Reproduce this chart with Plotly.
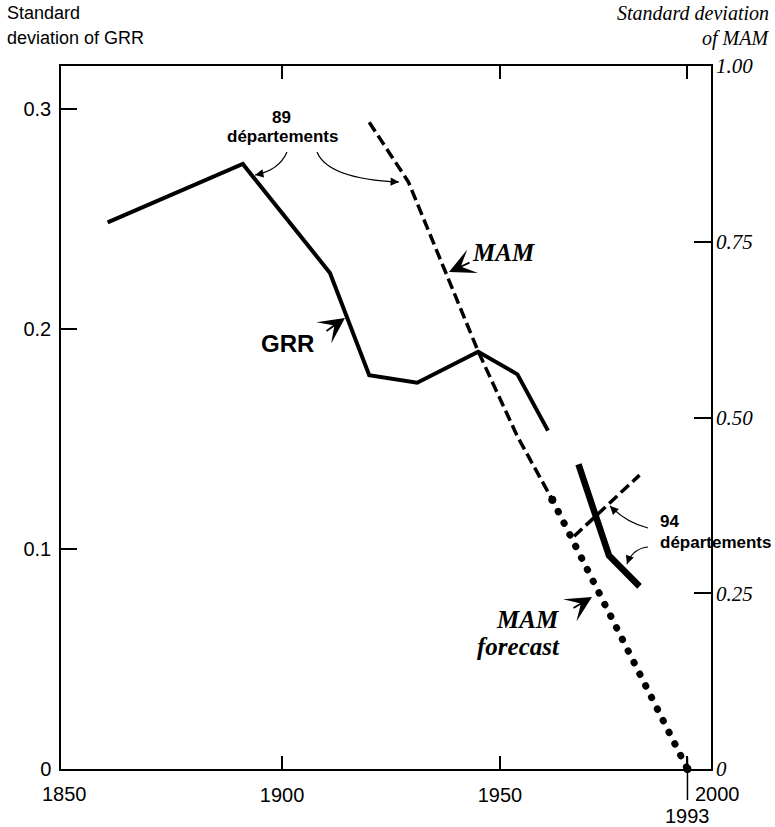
import math
import plotly.graph_objects as go

# ---------------- data ----------------
grr_years_89 = [1860, 1891, 1911, 1920, 1931, 1945, 1954, 1961]
grr_sd_89 = [0.2485, 0.275, 0.2255, 0.179, 0.1756, 0.1897, 0.1794, 0.1538]

grr_years_94 = [1968, 1975, 1982]
grr_sd_94 = [0.1385, 0.097, 0.083]

mam_years_89 = [1920, 1929, 1945, 1954, 1962]
mam_sd_89 = [0.92, 0.835, 0.594, 0.473, 0.383]

mam_years_94 = [1967, 1982]
mam_sd_94 = [0.331, 0.418]

forecast_years = [1962, 1993]
forecast_sd = [0.383, 0.0]

x_tick_years = [1900, 1950, 1993]
x_tick_labels = ["1900", "1950", ""]
grr_ticks = [0, 0.1, 0.2, 0.3]
grr_tick_labels = ["0", "0.1", "0.2", "0.3"]
mam_ticks = [0, 0.25, 0.5, 0.75, 1.0]
mam_tick_labels = ["0", "0.25", "0.50", "0.75", "1.00"]

# ---------------- layout geometry ----------------
W, H = 775, 827
L, R, T, B = 61, 711, 66, 769
X0, X1 = 1849.3, 1998.4

def px(x):
    return (x - L) / (R - L)

def py(y):
    return (B - y) / (B - T)

SANS = "Liberation Sans, Arial, Helvetica, sans-serif"
NARROW = "Liberation Sans Narrow, Arial Narrow, Liberation Sans, Arial, sans-serif"
SERIF = "Liberation Serif, Times New Roman, serif"

fig = go.Figure()

fig.add_trace(go.Scatter(x=grr_years_89, y=grr_sd_89, mode="lines",
                         line=dict(color="black", width=4), yaxis="y",
                         showlegend=False, hoverinfo="skip"))
fig.add_trace(go.Scatter(x=grr_years_94, y=grr_sd_94, mode="lines",
                         line=dict(color="black", width=6.5), yaxis="y",
                         showlegend=False, hoverinfo="skip"))
fig.add_trace(go.Scatter(x=mam_years_89, y=mam_sd_89, mode="lines",
                         line=dict(color="black", width=3.5, dash="11px,5px"),
                         yaxis="y2", showlegend=False, hoverinfo="skip"))
fig.add_trace(go.Scatter(x=mam_years_94, y=mam_sd_94, mode="lines",
                         line=dict(color="black", width=3.5, dash="11px,5px"),
                         yaxis="y2", showlegend=False, hoverinfo="skip"))
fig.add_trace(go.Scatter(x=forecast_years, y=forecast_sd, mode="lines+markers",
                         line=dict(color="black", width=7, dash="0.5px,12.5px"),
                         marker=dict(color="black", size=8),
                         yaxis="y2", showlegend=False, hoverinfo="skip",
                         cliponaxis=False))

annotations = []
shapes = []

def text(t, x, y, font, xanchor="center", yanchor="middle"):
    annotations.append(dict(text=t, x=px(x), y=py(y), xref="paper", yref="paper",
                            showarrow=False, xanchor=xanchor, yanchor=yanchor,
                            font=font))

def big_arrow(tail, tip):
    annotations.append(dict(text="", x=px(tip[0]), y=py(tip[1]), xref="paper", yref="paper",
                            ax=tail[0] - tip[0], ay=tail[1] - tip[1],
                            showarrow=True, arrowhead=3, arrowsize=2.4,
                            arrowwidth=1.8, arrowcolor="black", standoff=0))

def curved_arrow(start, mid, end):
    cx = 2 * mid[0] - (start[0] + end[0]) / 2
    cy = 2 * mid[1] - (start[1] + end[1]) / 2
    path = "M {} {} Q {} {} {} {}".format(px(start[0]), py(start[1]), px(cx), py(cy),
                                         px(end[0]), py(end[1]))
    shapes.append(dict(type="path", path=path, xref="paper", yref="paper",
                       line=dict(color="black", width=1.2)))
    dx, dy = end[0] - cx, end[1] - cy
    n = math.hypot(dx, dy)
    k = 9
    annotations.append(dict(text="", x=px(end[0]), y=py(end[1]), xref="paper", yref="paper",
                            ax=-k * dx / n, ay=-k * dy / n, showarrow=True,
                            arrowhead=2, arrowsize=1.4, arrowwidth=1.2,
                            arrowcolor="black", standoff=0))

# titles
f_title = dict(family=SANS, size=18, color="black")
text("Standard", 5, 13, f_title, xanchor="left")
text("deviation of GRR", 5, 38, f_title, xanchor="left")
f_title_r = dict(family=SERIF, size=20, color="black", style="italic")
text("Standard deviation", 771, 13, f_title_r, xanchor="right")
text("of MAM", 771, 38, f_title_r, xanchor="right")

# 89 départements
f_dep = dict(family=NARROW, size=17, color="black", weight="bold")
text("89", 281, 117, f_dep)
text("départements", 282, 136, f_dep)
curved_arrow((287, 152), (275, 167), (255, 175))
curved_arrow((317, 152), (343, 173), (399, 182))

# GRR label
text("GRR", 287, 343, dict(family=SANS, size=24, color="black", weight="bold"))
big_arrow((325, 332), (345, 318))

# MAM label
f_mam = dict(family=SERIF, size=25, color="black", weight="bold", style="italic")
text("MAM", 503, 252, f_mam)
big_arrow((471, 262), (449, 272))

# MAM forecast label
text("MAM", 561, 619, f_mam, xanchor="right")
text("forecast", 562, 646, f_mam, xanchor="right")
big_arrow((572, 609), (592, 597))

# 94 départements
text("94", 658, 521, f_dep, xanchor="left")
text("départements", 658, 542, f_dep, xanchor="left")
curved_arrow((648, 528), (628, 520), (610, 506))
curved_arrow((648, 547), (635, 552), (627, 564))

# 1850 / 1993 / 2000 labels on the x axis
f_tick = dict(family=SANS, size=20, color="black")
x_scale = (R - L) / (X1 - X0)
text("1850", L + (1850 - X0) * x_scale, 794, f_tick)
text("2000", L + (2000 - X0) * x_scale, 794, f_tick)
annotations.append(dict(text="1993", x=1993, y=py(816), xref="x", yref="paper",
                        showarrow=False, xanchor="center", yanchor="middle", font=f_tick))
shapes.append(dict(type="line", x0=1993, x1=1993, y0=py(757), y1=py(800),
                   xref="x", yref="paper", line=dict(color="black", width=1.5)))

fig.update_layout(
    width=W, height=H,
    margin=dict(l=L, r=W - R, t=T, b=H - B, pad=0),
    paper_bgcolor="white", plot_bgcolor="white",
    showlegend=False,
    xaxis=dict(range=[X0, X1], tickvals=x_tick_years, ticktext=x_tick_labels,
               ticks="inside", ticklen=13, tickwidth=1.5, tickcolor="black",
               showline=True, linecolor="black", linewidth=1.5, mirror="ticks",
               showgrid=False, zeroline=False, tickfont=f_tick, ticklabelstandoff=7),
    yaxis=dict(range=[0, 0.31955], tickvals=grr_ticks, ticktext=grr_tick_labels,
               ticks="inside", ticklen=16, tickwidth=1.5, tickcolor="black",
               showline=True, linecolor="black", linewidth=1.5, mirror=True,
               showgrid=False, zeroline=False, tickfont=f_tick, ticklabelstandoff=4),
    yaxis2=dict(range=[0, 1.0], tickvals=mam_ticks, ticktext=mam_tick_labels,
                overlaying="y", side="right", anchor="x",
                ticks="inside", ticklen=17, tickwidth=1.5, tickcolor="black",
                showline=False, showgrid=False, zeroline=False,
                tickfont=dict(family=SERIF, size=21, color="black", style="italic"),
                ticklabelstandoff=4),
    annotations=annotations,
    shapes=shapes,
)

post = """
(function(){
  document.body.style.margin = '0';
  document.body.style.padding = '0';
  function fix(){
    document.querySelectorAll('path.js-line').forEach(function(p){
      var d = p.style.strokeDasharray || '';
      if (d.indexOf('0.5') === 0) { p.style.strokeLinecap = 'round'; }
    });
  }
  fix();
  setTimeout(fix, 50);
})();
"""

fig.write_html("out.html", post_script=post, config={"displayModeBar": False})
